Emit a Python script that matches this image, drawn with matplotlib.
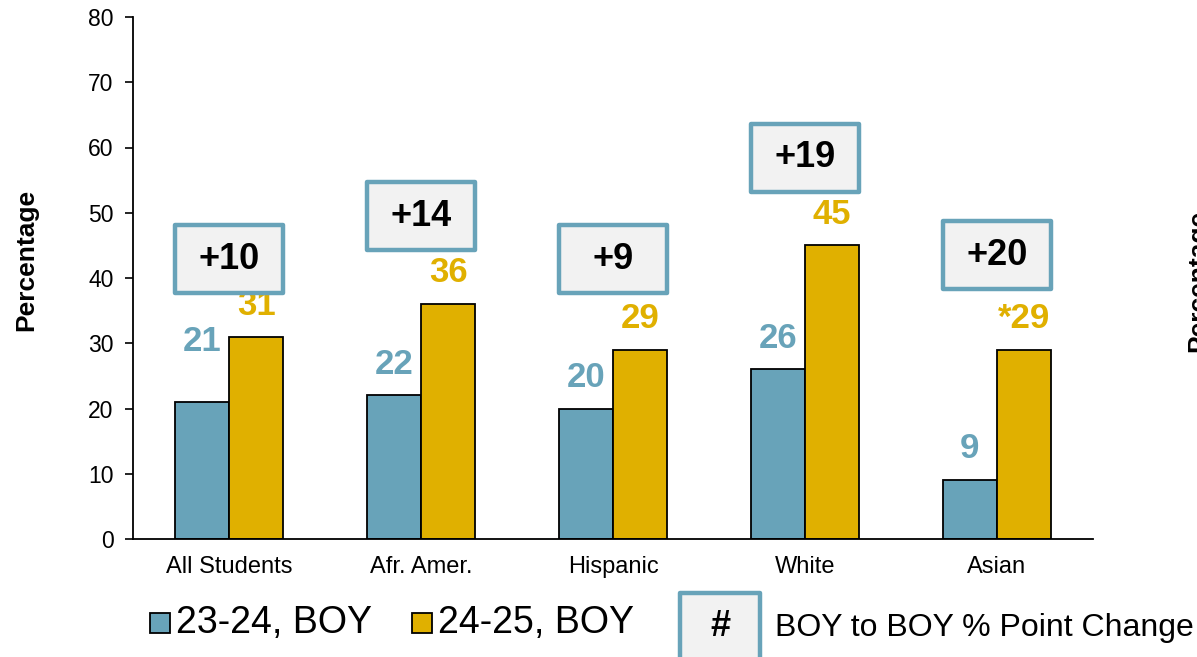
import matplotlib.pyplot as plt
from matplotlib.patches import Rectangle

plt.rcParams['font.family'] = ['Liberation Sans', 'DejaVu Sans']

groups = ['All Students', 'Afr. Amer.', 'Hispanic', 'White', 'Asian']
boy_2324 = [21, 22, 20, 26, 9]
boy_2425 = [31, 36, 29, 45, 29]
label_2425 = ['31', '36', '29', '45', '*29']
change = ['+10', '+14', '+9', '+19', '+20']
series_names = ['23-24, BOY', '24-25, BOY']
change_name = 'BOY to BOY % Point Change'

blue = '#68a3b9'
yellow = '#e0b000'
box_face = '#f2f2f2'

fig = plt.figure(figsize=(11.97, 6.57), dpi=100)
ax = fig.add_axes([133 / 1197, 1 - 539 / 657, 960 / 1197, 522 / 657])

x = list(range(len(groups)))
w = 0.283
ax.bar([i - w / 2 for i in x], boy_2324, w, color=blue, edgecolor='black', linewidth=1.3, zorder=2)
ax.bar([i + w / 2 for i in x], boy_2425, w, color=yellow, edgecolor='black', linewidth=1.3, zorder=2)

# value labels (first blue one sits higher in the original)
blue_off = [9.2, 4.8, 4.8, 4.8, 4.8]
for i in x:
    ax.text(i - w / 2, boy_2324[i] + blue_off[i], str(boy_2324[i]), ha='center', va='center',
            fontsize=25, fontweight='bold', color=blue, zorder=3)
    ax.text(i + w / 2, boy_2425[i] + 4.8, label_2425[i], ha='center', va='center',
            fontsize=25, fontweight='bold', color=yellow, zorder=3)

# change boxes
box_gap = [6.7, 8.3, 8.7, 8.2, 9.3]
box_h = 10.4
for i in x:
    b = boy_2425[i] + box_gap[i]
    ax.add_patch(Rectangle((i - w, b), 2 * w, box_h, facecolor=box_face, edgecolor=blue,
                           linewidth=3.2, joinstyle='round', zorder=4))
    ax.text(i, b + box_h / 2, change[i], ha='center', va='center', fontsize=26,
            fontweight='bold', color='black', zorder=5)

ax.set_xlim(-0.5, 4.5)
ax.set_ylim(0, 80)
ax.set_yticks(range(0, 81, 10))
ax.set_xticks(x)
ax.set_xticklabels(groups, fontsize=17)
ax.tick_params(axis='x', length=0, pad=12)
ax.tick_params(axis='y', length=6, width=1.2, labelsize=16.5, pad=8)
for s in ['top', 'right']:
    ax.spines[s].set_visible(False)
ax.spines['left'].set_linewidth(1.3)
ax.spines['bottom'].set_linewidth(1.3)
ax.set_ylabel('Percentage', fontsize=19, fontweight='bold', labelpad=0)
ax.yaxis.set_label_coords(-95 / 960, 0.535)

# bottom legend
def fx(px):
    return px / 1197


def fy(py):
    return 1 - py / 657


fig.patches.append(Rectangle((fx(150), fy(633)), 20 / 1197, 20 / 657, transform=fig.transFigure,
                             facecolor=blue, edgecolor='black', linewidth=1.3))
fig.text(fx(176), fy(623), series_names[0], fontsize=27, va='center', ha='left')
fig.patches.append(Rectangle((fx(412), fy(633)), 20 / 1197, 20 / 657, transform=fig.transFigure,
                             facecolor=yellow, edgecolor='black', linewidth=1.3))
fig.text(fx(438), fy(623), series_names[1], fontsize=27, va='center', ha='left')
fig.patches.append(Rectangle((fx(680), fy(680)), 80 / 1197, 87 / 657, transform=fig.transFigure,
                             facecolor=box_face, edgecolor=blue, linewidth=3.2, joinstyle='round'))
fig.text(fx(720), fy(627), '#', fontsize=26, fontweight='bold', va='center', ha='center')
fig.text(fx(775), fy(628), change_name, fontsize=23, va='center', ha='left')

# cut-off axis label of the neighbouring chart
fig.text(fx(1186), fy(281), 'Percentage', fontsize=19, fontweight='bold', rotation=90,
         va='center', ha='left')

fig.savefig('out.png', dpi=100)
